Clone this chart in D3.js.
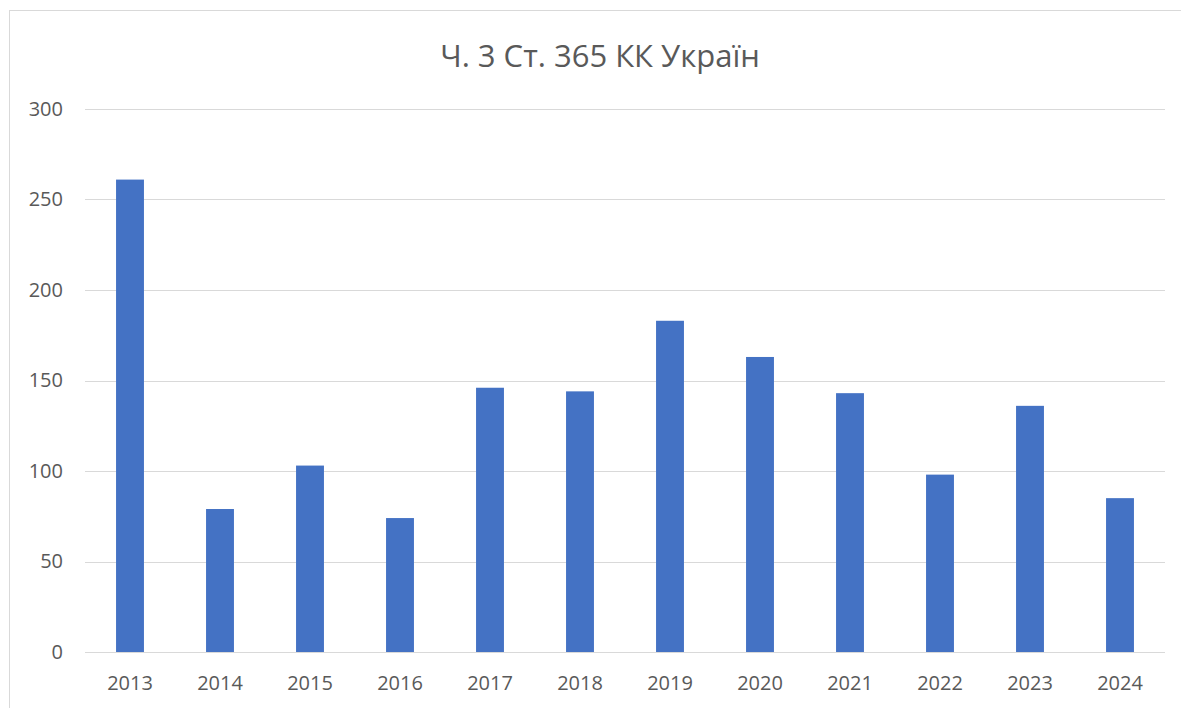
<!DOCTYPE html>
<html lang="uk">
<head>
  <meta charset="UTF-8">
  <title>Ч. 3 Ст. 365 КК Україн</title>
  <style>
    body { margin: 0; background: #fff; }
    svg { display: block; font-family: "Open Sans", "Noto Sans", sans-serif; }
    .grid line { stroke: #d9d9d9; stroke-width: 1; shape-rendering: crispEdges; }
    .tick text { fill: #595959; font-size: 20px; font-family: "Open Sans", "Noto Sans", sans-serif; }
  </style>
</head>
<body>
  <div id="chart"></div>
  <script src="https://d3js.org/d3.v7.min.js"></script>
  <script>
    const years = ["2013", "2014", "2015", "2016", "2017", "2018", "2019", "2020", "2021", "2022", "2023", "2024"];
    const counts = [261, 79, 103, 74, 146, 144, 183, 163, 143, 98, 136, 85];
    const yTicks = [0, 50, 100, 150, 200, 250, 300];
    const title = "Ч. 3 Ст. 365 КК Україн";

    const width = 1181, height = 708;
    const margin = { top: 109, right: 16, bottom: 56, left: 85 };
    const plotW = 1165 - margin.left;
    const plotH = 652 - margin.top;

    const svg = d3.select('#chart')
      .append('svg')
      .attr('width', width)
      .attr('height', height);

    // outer chart border (only top/left visible in the reference)
    svg.append('rect')
      .attr('x', 9.5).attr('y', 10.5)
      .attr('width', 1200).attr('height', 720)
      .attr('fill', 'none')
      .attr('stroke', '#d9d9d9');

    svg.append('text')
      .attr('x', 600).attr('y', 67)
      .attr('text-anchor', 'middle')
      .attr('fill', '#595959')
      .style('font-size', '31px')
      .text(title);

    const g = svg.append('g')
      .attr('transform', `translate(${margin.left},${margin.top})`);

    const x = d3.scaleBand().domain(years).range([0, plotW]).paddingInner(0.69).paddingOuter(0.345);
    const y = d3.scaleLinear().domain([0, 300]).range([plotH, 0]);

    // gridlines
    g.append('g').attr('class', 'grid')
      .selectAll('line')
      .data(yTicks)
      .enter()
      .append('line')
      .attr('x1', 0).attr('x2', plotW)
      .attr('y1', d => Math.round(y(d)) + 0.5)
      .attr('y2', d => Math.round(y(d)) + 0.5);

    // bars
    g.append('g')
      .selectAll('rect')
      .data(counts)
      .enter()
      .append('rect')
      .attr('x', (d, i) => x(years[i]))
      .attr('y', d => y(d))
      .attr('width', x.bandwidth())
      .attr('height', d => plotH - y(d))
      .attr('fill', '#4472c4');

    // baseline
    g.append('line')
      .attr('x1', 0).attr('x2', plotW)
      .attr('y1', plotH + 0.5).attr('y2', plotH + 0.5)
      .attr('stroke', '#d9d9d9');

    // y axis labels
    const yAxis = g.append('g')
      .call(d3.axisLeft(y).tickValues(yTicks).tickSize(0).tickPadding(22));
    yAxis.select('.domain').remove();

    // x axis labels
    const xAxis = g.append('g')
      .attr('transform', `translate(0,${plotH})`)
      .call(d3.axisBottom(x).tickSize(0).tickPadding(24));
    xAxis.select('.domain').remove();
  </script>
</body>
</html>
